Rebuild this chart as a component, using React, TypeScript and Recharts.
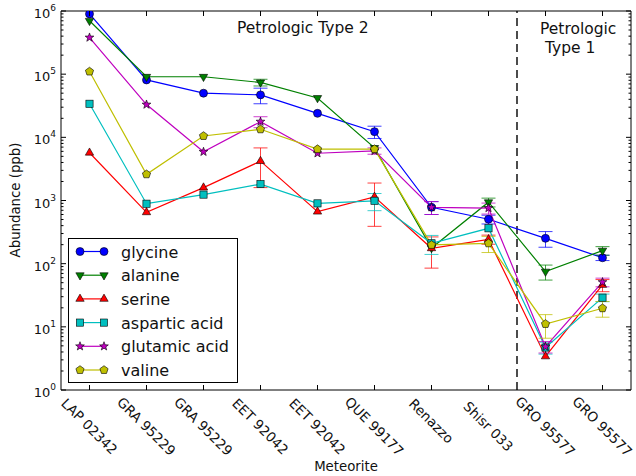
import React from 'react';
import { LineChart, Line, XAxis, YAxis, ReferenceLine, ErrorBar } from 'recharts';

// meteorite samples along the x axis (same name appears twice for replicate samples)
const meteorites = [
  'LAP 02342', 'GRA 95229', 'GRA 95229', 'EET 92042', 'EET 92042',
  'QUE 99177', 'Renazzo', 'Shisr 033', 'GRO 95577', 'GRO 95577',
];

// abundances in ppb
const glycine = [900000, 81000, 50000, 47000, 24000, 12300, 780, 505, 252, 124];
const alanine = [700000, 91000, 91000, 74000, 42000, 6800, 177, 940, 75, 161];
const serine = [5700, 650, 1600, 4200, 665, 1140, 175, 243, 3.4, 46];
const asparticAcid = [34000, 890, 1240, 1820, 900, 990, 210, 363, 4.7, 29];
const glutamicAcid = [380000, 33000, 5900, 17700, 5600, 6100, 780, 760, 4.85, 51];
const valine = [110000, 2600, 10500, 13400, 6500, 6500, 198, 210, 11.1, 19.7];

// symmetric errors (null = no visible bar)
const glycineErr = [null, null, null, 13000, null, 2700, 180, 80, 70, 12];
const alanineErr = [null, null, null, 9000, null, null, null, 150, 20, 25];
const serineErr = [null, null, null, 2600, null, 750, 90, 40, null, 10];
const asparticAcidErr = [null, null, null, null, null, 300, 70, null, 1, 4];
const glutamicAcidErr = [null, null, null, 3500, null, 700, 180, 150, 1, 8];
const valineErr = [null, null, null, null, null, null, null, 60, 4.5, 5.5];

const xTicks = meteorites.map((_, i) => i);
const decades = [1, 10, 100, 1000, 10000, 100000, 1000000];
const yTicks: number[] = [];
decades.forEach((d, k) => {
  yTicks.push(d);
  if (k < decades.length - 1) for (let m = 2; m <= 9; m++) yTicks.push(d * m);
});

const series = [
  { key: 'glycine', values: glycine, errors: glycineErr, color: '#0000ff', shape: 'circle' },
  { key: 'alanine', values: alanine, errors: alanineErr, color: '#008000', shape: 'tdown' },
  { key: 'serine', values: serine, errors: serineErr, color: '#ff0000', shape: 'tup' },
  { key: 'aspartic acid', values: asparticAcid, errors: asparticAcidErr, color: '#00bfbf', shape: 'square' },
  { key: 'glutamic acid', values: glutamicAcid, errors: glutamicAcidErr, color: '#bf00bf', shape: 'star' },
  { key: 'valine', values: valine, errors: valineErr, color: '#bfbf00', shape: 'pentagon' },
];

const rows = meteorites.map((name, i) => {
  const row: any = { idx: i, name };
  series.forEach((s) => {
    row[s.key] = s.values[i];
    row[s.key + ' err'] = s.errors[i];
  });
  return row;
});

const FONT = "'DejaVu Sans', sans-serif";

function polygon(cx: number, cy: number, n: number, r: number, r2?: number, rot = -Math.PI / 2) {
  const pts: string[] = [];
  const count = r2 ? n * 2 : n;
  for (let i = 0; i < count; i++) {
    const a = rot + (i * 2 * Math.PI) / count;
    const rr = r2 && i % 2 === 1 ? r2 : r;
    pts.push(`${cx + rr * Math.cos(a)},${cy + rr * Math.sin(a)}`);
  }
  return pts.join(' ');
}

function Marker({ cx, cy, shape, color }: { cx: number; cy: number; shape: string; color: string }) {
  const common = { fill: color, stroke: '#000', strokeWidth: 0.6 };
  switch (shape) {
    case 'circle':
      return <circle cx={cx} cy={cy} r={4} {...common} />;
    case 'tdown':
      return <polygon points={polygon(cx, cy, 3, 4.8, undefined, Math.PI / 2)} {...common} />;
    case 'tup':
      return <polygon points={polygon(cx, cy, 3, 4.8)} {...common} />;
    case 'square':
      return <rect x={cx - 3.6} y={cy - 3.6} width={7.2} height={7.2} {...common} />;
    case 'star':
      return <polygon points={polygon(cx, cy, 5, 4.6, 1.9)} {...common} />;
    default:
      return <polygon points={polygon(cx, cy, 5, 4.3)} {...common} />;
  }
}

function BottomTick(props: any) {
  const { x, y, payload } = props;
  const label = meteorites[payload.value] ?? '';
  const half = (label.length * 7.7 * 0.707 + 13.5 * 0.707) / 2;
  return (
    <g>
      <line x1={x} y1={y} x2={x} y2={y - 5} stroke="#000" />
      <text
        transform={`translate(${x},${y + 7 + half}) rotate(45)`}
        textAnchor="middle"
        dominantBaseline="central"
        fontSize={13.5}
        fontFamily={FONT}
        fill="#111"
      >
        {label}
      </text>
    </g>
  );
}

function TopTick(props: any) {
  const { x, y } = props;
  return <line x1={x} y1={y} x2={x} y2={y + 5} stroke="#000" />;
}

const isDecade = (v: number) => Math.abs(Math.log10(v) - Math.round(Math.log10(v))) < 1e-9;

function LeftTick(props: any) {
  const { x, y, payload } = props;
  const v = payload.value;
  const major = isDecade(v);
  return (
    <g>
      <line x1={x} y1={y} x2={x + (major ? 5 : 2.5)} y2={y} stroke="#000" />
      {major && (
        <text x={x - 5} y={y + 7} textAnchor="end" fontSize={13} fontFamily={FONT} fill="#111">
          10<tspan dy={-7} fontSize={9}>{Math.round(Math.log10(v))}</tspan>
        </text>
      )}
    </g>
  );
}

function RightTick(props: any) {
  const { x, y, payload } = props;
  const major = isDecade(payload.value);
  return <line x1={x} y1={y} x2={x - (major ? 5 : 2.5)} y2={y} stroke="#000" />;
}

export default function App() {
  return (
    <div style={{ position: 'absolute', left: 0, top: 0, width: 636, height: 476, background: '#fff', fontFamily: FONT }}>
      <LineChart width={636} height={476} data={rows} margin={{ top: 0, right: 0, bottom: 0, left: 0 }}>
        <XAxis
          xAxisId="bottom"
          type="number"
          dataKey="idx"
          domain={[-0.5, 9.5]}
          ticks={xTicks}
          interval={0}
          height={86}
          tickLine={false}
          tickSize={0}
          tickMargin={0}
          axisLine={{ stroke: '#000' }}
          tick={<BottomTick />}
          allowDataOverflow
        />
        <XAxis
          xAxisId="top"
          orientation="top"
          type="number"
          dataKey="idx"
          domain={[-0.5, 9.5]}
          ticks={xTicks}
          interval={0}
          height={11}
          tickLine={false}
          tickSize={0}
          tickMargin={0}
          axisLine={{ stroke: '#000' }}
          tick={<TopTick />}
          allowDataOverflow
        />
        <YAxis
          yAxisId="left"
          type="number"
          scale="log"
          domain={[1, 1000000]}
          ticks={yTicks}
          interval={0}
          width={61}
          tickLine={false}
          tickSize={0}
          tickMargin={0}
          axisLine={{ stroke: '#000' }}
          tick={<LeftTick />}
          allowDataOverflow
        />
        <YAxis
          yAxisId="right"
          orientation="right"
          type="number"
          scale="log"
          domain={[1, 1000000]}
          ticks={yTicks}
          interval={0}
          width={5}
          tickLine={false}
          tickSize={0}
          tickMargin={0}
          axisLine={{ stroke: '#000' }}
          tick={<RightTick />}
          allowDataOverflow
        />
        <ReferenceLine
          xAxisId="bottom"
          yAxisId="left"
          x={7.5}
          stroke="#000"
          strokeWidth={1.4}
          strokeDasharray="8 5"
        />
        {series.map((s) => (
          <Line
            key={s.key}
            xAxisId="bottom"
            yAxisId="left"
            type="linear"
            dataKey={s.key}
            stroke={s.color}
            strokeWidth={1.2}
            isAnimationActive={false}
            activeDot={false}
            dot={(p: any) => (
              <Marker key={`${s.key}-${p.index}`} cx={p.cx} cy={p.cy} shape={s.shape} color={s.color} />
            )}
          >
            <ErrorBar dataKey={s.key + ' err'} direction="y" width={7} stroke={s.color} strokeWidth={1} strokeOpacity={0.75} />
          </Line>
        ))}
      </LineChart>

      <svg width={636} height={476} style={{ position: 'absolute', left: 0, top: 0, pointerEvents: 'none' }}>
        <text x={237} y={33} fontSize={15.5} fontFamily={FONT} fill="#111">Petrologic Type 2</text>
        <text x={540} y={34} fontSize={15.5} fontFamily={FONT} fill="#111">Petrologic</text>
        <text x={545} y={53} fontSize={15.5} fontFamily={FONT} fill="#111">Type 1</text>
        <text transform="translate(20,200) rotate(-90)" textAnchor="middle" fontSize={13.3} fontFamily={FONT} fill="#111">
          Abundance (ppb)
        </text>
        <text x={346} y={471} textAnchor="middle" fontSize={13.3} fontFamily={FONT} fill="#111">Meteorite</text>

        <rect x={68.5} y={238.5} width={169} height={144} fill="#fff" stroke="#000" strokeWidth={1} />
        {series.map((s, i) => {
          const cy = 251.5 + i * 23.7;
          return (
            <g key={s.key}>
              <line x1={80} y1={cy} x2={104} y2={cy} stroke={s.color} strokeWidth={1.2} />
              <Marker cx={80} cy={cy} shape={s.shape} color={s.color} />
              <Marker cx={104} cy={cy} shape={s.shape} color={s.color} />
              <text x={121} y={cy + 6} fontSize={16} fontFamily={FONT} fill="#111">{s.key}</text>
            </g>
          );
        })}
      </svg>
    </div>
  );
}
